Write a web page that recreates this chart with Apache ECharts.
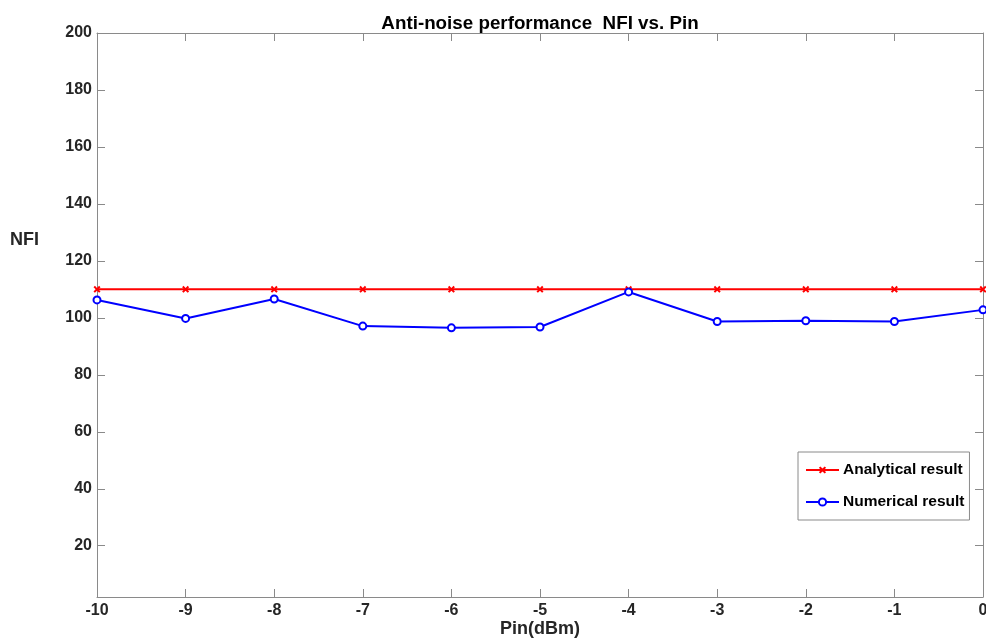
<!DOCTYPE html>
<html>
<head>
<meta charset="utf-8">
<script src="https://cdn.jsdelivr.net/npm/echarts@6/dist/echarts.min.js"></script>
<style>
html,body{margin:0;padding:0;background:#fff;}
#chart{width:986px;height:642px;}
</style>
</head>
<body>
<div id="chart"></div>
<script>
const pinValues = [-10, -9, -8, -7, -6, -5, -4, -3, -2, -1, 0];
const analytical = [110, 110, 110, 110, 110, 110, 110, 110, 110, 110, 110];
const numerical = [106.3, 99.8, 106.6, 97.1, 96.5, 96.8, 109.1, 98.7, 99.0, 98.7, 102.8];
const titleText = 'Anti-noise performance  NFI vs. Pin';
const xName = 'Pin(dBm)';
const yName = 'NFI';
const seriesNames = ['Analytical result', 'Numerical result'];

const FONT = '"Liberation Sans", Arial, Helvetica, sans-serif';
const axisGray = '#8a8a8a';
const textDark = '#262626';
const crossPath = 'path://M0,2L2,0L5,3L8,0L10,2L7,5L10,8L8,10L5,7L2,10L0,8L3,5Z';

const chart = echarts.init(document.getElementById('chart'), null, {renderer: 'canvas'});

function pairs(vals) { return pinValues.map((x, i) => [x, vals[i]]); }

const yLabelFmt = v => (Math.round(v) % 20 === 0 && v > 10) ? String(Math.round(v)) : '';

const option = {
  backgroundColor: '#fff',
  animation: false,
  title: {
    text: titleText,
    left: 535, top: 9, textAlign: 'center',
    textStyle: {fontFamily: FONT, fontWeight: 'bold', fontSize: 18.8, color: '#000'}
  },
  graphic: [{
    type: 'text', left: 10, top: 231,
    style: {text: yName, fontFamily: FONT, fontWeight: 'bold', fontSize: 18, fill: textDark}
  }],
  grid: {left: 97, right: 3, top: 33, bottom: 45, containLabel: false, outerBoundsMode: 'none'},
  legend: {
    orient: 'vertical',
    left: 798, top: 452,
    padding: [10, 5, 10, 7],
    itemGap: 16,
    itemWidth: 33, itemHeight: 9,
    borderColor: axisGray, borderWidth: 1,
    backgroundColor: '#fff',
    textStyle: {fontFamily: FONT, fontWeight: 'bold', fontSize: 15.5, color: '#000', padding: [0, 0, 0, -1]},
    data: seriesNames
  },
  xAxis: [{
    type: 'value', min: -10, max: 0, interval: 1,
    position: 'bottom',
    name: xName, nameLocation: 'middle', nameGap: 23, nameMoveOverlap: false,
    nameTextStyle: {fontFamily: FONT, fontWeight: 'bold', fontSize: 18, color: textDark},
    axisLine: {show: true, onZero: false, lineStyle: {color: axisGray, width: 1}},
    axisTick: {show: true, inside: true, length: 8, lineStyle: {color: axisGray}},
    axisLabel: {fontFamily: FONT, fontWeight: 'bold', fontSize: 16, color: textDark, margin: 6},
    splitLine: {show: false}
  }, {
    type: 'value', min: -10, max: 0, interval: 1,
    position: 'top',
    axisLine: {show: true, onZero: false, lineStyle: {color: axisGray, width: 1}},
    axisTick: {show: true, inside: true, length: 8, lineStyle: {color: axisGray}},
    axisLabel: {show: false},
    splitLine: {show: false}
  }],
  yAxis: [{
    type: 'value', min: 2, max: 200, splitNumber: 10,
    position: 'left',
    axisLine: {show: true, onZero: false, lineStyle: {color: axisGray, width: 1}},
    axisTick: {show: true, inside: true, length: 8, lineStyle: {color: axisGray}},
    axisLabel: {fontFamily: FONT, fontWeight: 'bold', fontSize: 16, color: textDark, margin: 5, formatter: yLabelFmt},
    splitLine: {show: false}
  }, {
    type: 'value', min: 2, max: 200, splitNumber: 10,
    position: 'right',
    axisLine: {show: true, onZero: false, lineStyle: {color: axisGray, width: 1}},
    axisTick: {show: true, inside: true, length: 8, lineStyle: {color: axisGray}},
    axisLabel: {show: false},
    splitLine: {show: false}
  }],
  series: [{
    name: seriesNames[0],
    type: 'line',
    xAxisIndex: 0, yAxisIndex: 0,
    data: pairs(analytical),
    symbol: crossPath,
    symbolSize: 7,
    showAllSymbol: true,
    lineStyle: {color: '#ff0000', width: 2},
    itemStyle: {color: '#ff0000'},
    z: 2
  }, {
    name: seriesNames[1],
    type: 'line',
    xAxisIndex: 0, yAxisIndex: 0,
    data: pairs(numerical),
    symbol: 'emptyCircle',
    symbolSize: 7,
    showAllSymbol: true,
    lineStyle: {color: '#0000ff', width: 2},
    itemStyle: {color: '#0000ff', borderColor: '#0000ff', borderWidth: 1.8},
    z: 3
  }]
};
chart.setOption(option);
</script>
</body>
</html>
